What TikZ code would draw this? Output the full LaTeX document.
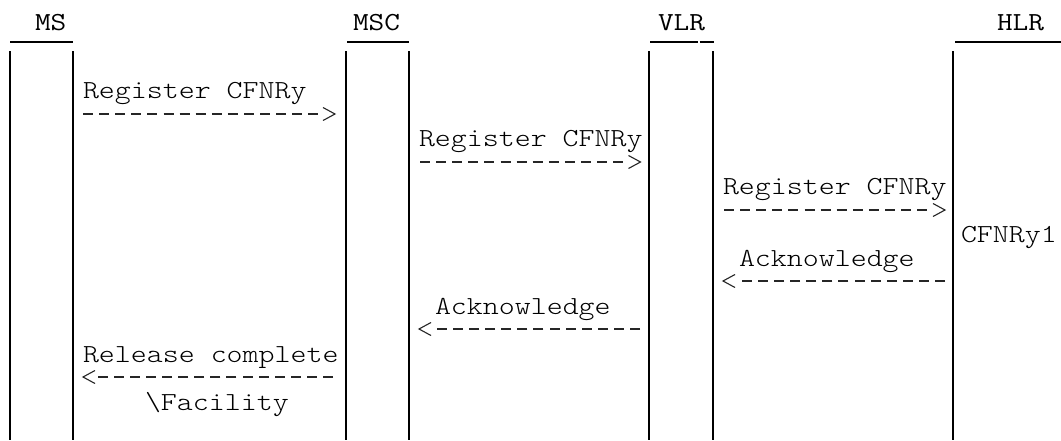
\documentclass[tikz,border=0pt]{standalone}
\usepackage{fontspec}
\newfontfamily\lmlight{lmmonolt10-regular.otf}[Ligatures=TeXOff]
\begin{document}
\begin{tikzpicture}[x=1pt,y=-1pt,
  txt/.style={anchor=base west,inner sep=0pt,outer sep=0pt,xscale=1.17,transform shape,
    font=\lmlight\fontsize{26}{30}\selectfont},
  head/.style={txt,font=\ttfamily\fontsize{26}{30}\selectfont},
  dashline/.style={line width=1.1pt,black!85,dash pattern=on 10pt off 6.1pt},
  chev/.style={line width=1.1pt,black!85,miter limit=10},
  life/.style={line width=1.2pt,black},
  bar/.style={line width=2pt,black}]
\useasboundingbox[fill=white] (0,0) rectangle (1061,440);
% headers
\node[head] (ms)  at (35,30)  {MS};
\node[head] (msc) at (353,30) {MSC};
\node[head] (vlr) at (658,30) {VLR};
\node[head] (hlr) at (997,30) {HLR};
% header bars
\coordinate (b1a) at (10,42);  \coordinate (b1b) at (73,42);
\coordinate (b2a) at (347,42); \coordinate (b2b) at (409,42);
\coordinate (b3a) at (650,42); \coordinate (b3b) at (697.5,42);
\coordinate (b3c) at (699.5,42); \coordinate (b3d) at (714,42);
\coordinate (b4a) at (955,42); \coordinate (b4b) at (1061,42);
\draw[bar] (b1a) -- (b1b);
\draw[bar] (b2a) -- (b2b);
\draw[bar] (b3a) -- (b3b);
\draw[bar] (b3c) -- (b3d);
\draw[bar] (b4a) -- (b4b);
% lifelines
\foreach \x/\n in {10/l1,73/l2,346/l3,409/l4,649/l5,713/l6,953/l7}{
  \coordinate (\n t) at (\x,51);
  \coordinate (\n b) at (\x,440);
  \draw[life] (\n t) -- (\n b);
}
% message labels
\node[txt] (m1) at (83,98)  {Register CFNRy};
\node[txt] (m2) at (419,146) {Register CFNRy};
\node[txt] (m3) at (723,194) {Register CFNRy};
\node[txt] (c1) at (961,242) {CFNRy1};
\node[txt] (m4) at (739,266) {Acknowledge};
\node[txt] (m5) at (435,314) {Acknowledge};
\node[txt] (m6) at (83,362) {Release complete};
\node[txt] (m7) at (145,410) {\textbackslash Facility};
% arrows: start, end of last dash, tip
\coordinate (a1s) at (83,114);  \coordinate (a1e) at (318.4,114); \coordinate (a1t) at (335,114);
\coordinate (a2s) at (420,162); \coordinate (a2e) at (623.2,162); \coordinate (a2t) at (640.5,162);
\coordinate (a3s) at (724,210); \coordinate (a3e) at (927.2,210); \coordinate (a3t) at (945,210);
\coordinate (a4s) at (945,281); \coordinate (a4e) at (741.8,281); \coordinate (a4t) at (723,281);
\coordinate (a5s) at (640,329); \coordinate (a5e) at (436.8,329); \coordinate (a5t) at (419,329);
\coordinate (a6s) at (333,377); \coordinate (a6e) at (97.6,377);  \coordinate (a6t) at (83,377);
\foreach \a in {a1,a2,a3}{
  \draw[dashline] (\a s) -- (\a e);
  \draw[chev] (\a t) ++(-12,-6.5) -- (\a t) -- ++(-12,6.5);
}
\foreach \a in {a4,a5,a6}{
  \draw[dashline] (\a s) -- (\a e);
  \draw[chev] (\a t) ++(12,-6.5) -- (\a t) -- ++(12,6.5);
}
\end{tikzpicture}
\end{document}
